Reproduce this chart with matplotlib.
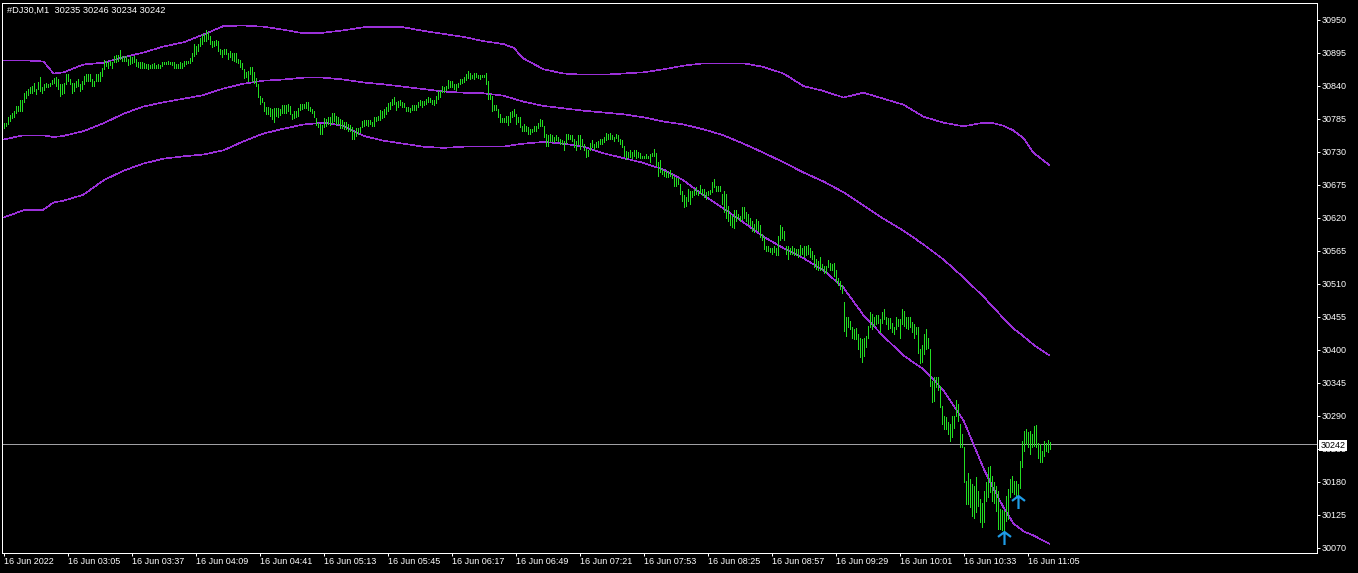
import matplotlib
matplotlib.use("Agg")
import matplotlib.pyplot as plt
from matplotlib.path import Path

W, H = 1358, 573

# One-minute bars, index 0 = 16 Jun 2022 02:33
highs = [
    30777, 30777, 30788, 30791, 30794, 30797, 30806, 30806, 30816, 30816,
    30827, 30831, 30834, 30837, 30840, 30845, 30834, 30846, 30855, 30837,
    30842, 30845, 30842, 30845, 30849, 30852, 30855, 30851, 30842, 30843,
    30845, 30859, 30859, 30851, 30845, 30845, 30848, 30851, 30842, 30848,
    30856, 30860, 30859, 30860, 30851, 30848, 30860, 30859, 30862, 30870,
    30882, 30881, 30879, 30881, 30879, 30890, 30891, 30891, 30899, 30890,
    30890, 30890, 30884, 30890, 30888, 30890, 30884, 30880, 30879, 30879,
    30877, 30876, 30876, 30875, 30876, 30877, 30875, 30876, 30875, 30880,
    30879, 30880, 30881, 30879, 30880, 30879, 30876, 30876, 30879,
    30877, 30881, 30881, 30881, 30886, 30895, 30910, 30906, 30909, 30919,
    30926, 30926, 30932, 30929, 30923, 30915, 30914, 30916, 30914, 30901,
    30899, 30901, 30901, 30894, 30897, 30894, 30894, 30895, 30884, 30882,
    30877, 30867, 30862, 30865, 30871, 30871, 30862, 30853, 30842, 30823,
    30820, 30813, 30805, 30805, 30802, 30801, 30802, 30802, 30802, 30801,
    30808, 30808, 30808, 30809, 30806, 30793, 30797, 30798, 30802, 30809,
    30809, 30810, 30812, 30812, 30805, 30801, 30798, 30786, 30778, 30776,
    30775, 30786, 30784, 30787, 30787, 30795, 30795, 30790, 30787, 30784,
    30782, 30780, 30780, 30776, 30775, 30771, 30765, 30769, 30770, 30771,
    30781, 30783, 30783, 30783, 30782, 30780, 30788, 30788, 30790, 30800,
    30797, 30801, 30804, 30811, 30812, 30818, 30821, 30812, 30815, 30816,
    30812, 30811, 30805, 30805, 30803, 30807, 30807, 30808, 30812, 30816,
    30815, 30815, 30818, 30821, 30820, 30816, 30816, 30823, 30831, 30831,
    30840, 30837, 30840, 30850, 30847, 30847, 30843, 30842, 30844, 30851,
    30851, 30854, 30860, 30865, 30861, 30858, 30861, 30861, 30858, 30857,
    30858, 30858, 30861, 30848, 30826, 30823, 30807, 30807, 30801, 30793,
    30786, 30786, 30790, 30790, 30796, 30798, 30801, 30792, 30788, 30788,
    30773, 30776, 30773, 30771, 30768, 30768, 30773, 30773, 30777, 30784,
    30782, 30773, 30760, 30757, 30760, 30757, 30754, 30757, 30755, 30751,
    30750, 30748, 30760, 30760, 30758, 30757, 30751, 30748, 30758, 30757,
    30751, 30742, 30734, 30733, 30744, 30750, 30743, 30746, 30747, 30751,
    30751, 30755, 30761, 30760, 30761, 30757, 30755, 30760, 30757, 30751,
    30750, 30740, 30731, 30729, 30732, 30729, 30732, 30733, 30729, 30727,
    30723, 30723, 30726, 30723, 30726, 30727, 30735, 30727, 30712, 30716,
    30701, 30698, 30698, 30696, 30700, 30693, 30687, 30686, 30686, 30676,
    30665, 30657, 30655, 30668, 30665, 30665, 30668, 30671, 30665, 30675,
    30668, 30668, 30662, 30665, 30666, 30679, 30684, 30673, 30673, 30673,
    30660, 30665, 30660, 30640, 30626, 30623, 30632, 30632, 30626, 30623,
    30637, 30638, 30629, 30626, 30620, 30615, 30609, 30618, 30615, 30608,
    30593, 30588, 30573, 30572, 30570, 30569, 30572, 30570, 30590, 30608,
    30604, 30598, 30573, 30573, 30570, 30573, 30570, 30568, 30568, 30575,
    30570, 30572, 30573, 30575, 30570, 30565, 30557, 30551, 30548, 30554,
    30543, 30540, 30540, 30549, 30545, 30543, 30544, 30532, 30519, 30515,
    30507, 30479, 30455, 30454, 30448, 30437, 30434, 30436, 30426, 30420,
    30418, 30420, 30423, 30440, 30462, 30459, 30454, 30457, 30457, 30451,
    30462, 30468, 30454, 30453, 30453, 30445, 30438, 30454, 30451, 30451,
    30468, 30465, 30455, 30454, 30454, 30446, 30443, 30437, 30437, 30401,
    30407, 30426, 30434, 30420, 30401, 30348, 30354, 30355, 30354, 30340,
    30306, 30290, 30287, 30279, 30276, 30290, 30290, 30316, 30309, 30276,
    30259, 30237, 30181, 30195, 30184, 30176, 30173, 30187, 30165, 30151,
    30145, 30165, 30179, 30204, 30206, 30190, 30179, 30173, 30165, 30134,
    30132, 30131, 30156, 30168, 30184, 30190, 30181, 30181, 30176, 30215,
    30248, 30264, 30268, 30262, 30265, 30259, 30273, 30275, 30245, 30243,
    30231, 30248, 30245, 30249, 30246,
]

lows = [
    30770, 30773, 30776, 30781, 30786, 30788, 30794, 30798, 30797, 30798,
    30812, 30820, 30825, 30827, 30828, 30831, 30826, 30834, 30831, 30828,
    30832, 30837, 30837, 30840, 30842, 30845, 30840, 30834, 30823, 30826,
    30828, 30842, 30848, 30842, 30828, 30831, 30837, 30840, 30831, 30834,
    30842, 30848, 30847, 30848, 30840, 30840, 30848, 30847, 30848, 30856,
    30867, 30873, 30870, 30874, 30869, 30879, 30879, 30881, 30884, 30881,
    30881, 30881, 30874, 30876, 30877, 30879, 30873, 30871, 30870, 30869,
    30869, 30869, 30867, 30869, 30869, 30870, 30869, 30870, 30869, 30873,
    30876, 30876, 30876, 30876, 30875, 30870, 30869, 30869, 30870,
    30870, 30873, 30876, 30877, 30877, 30881, 30890, 30892, 30898, 30906,
    30910, 30914, 30915, 30917, 30909, 30904, 30906, 30908, 30898, 30892,
    30888, 30892, 30892, 30884, 30887, 30882, 30881, 30879, 30877, 30871,
    30867, 30852, 30855, 30847, 30859, 30848, 30845, 30840, 30821, 30809,
    30812, 30798, 30793, 30792, 30790, 30784, 30780, 30790, 30787, 30791,
    30795, 30795, 30795, 30797, 30793, 30784, 30786, 30788, 30790, 30799,
    30801, 30802, 30802, 30799, 30797, 30795, 30787, 30775, 30771, 30759,
    30759, 30771, 30773, 30776, 30775, 30778, 30781, 30776, 30776, 30770,
    30769, 30767, 30767, 30765, 30765, 30751, 30751, 30756, 30759, 30762,
    30771, 30773, 30775, 30773, 30776, 30773, 30772, 30781, 30782, 30782,
    30786, 30788, 30793, 30797, 30801, 30807, 30810, 30800, 30804, 30807,
    30804, 30804, 30797, 30798, 30796, 30800, 30800, 30800, 30804, 30807,
    30805, 30807, 30810, 30812, 30812, 30810, 30808, 30811, 30818, 30821,
    30829, 30829, 30833, 30836, 30837, 30837, 30834, 30832, 30837, 30842,
    30844, 30846, 30850, 30853, 30851, 30853, 30851, 30854, 30853, 30851,
    30854, 30854, 30843, 30818, 30818, 30798, 30800, 30800, 30788, 30779,
    30779, 30779, 30779, 30775, 30779, 30788, 30790, 30776, 30779, 30771,
    30764, 30764, 30764, 30760, 30760, 30762, 30764, 30765, 30770, 30773,
    30773, 30754, 30740, 30740, 30748, 30747, 30746, 30750, 30747, 30743,
    30742, 30732, 30744, 30751, 30751, 30748, 30737, 30733, 30742, 30734,
    30740, 30732, 30721, 30722, 30733, 30737, 30734, 30737, 30738, 30742,
    30742, 30746, 30750, 30751, 30751, 30751, 30747, 30753, 30748, 30742,
    30738, 30723, 30718, 30721, 30721, 30720, 30723, 30720, 30721, 30720,
    30720, 30720, 30720, 30720, 30712, 30722, 30723, 30707, 30690, 30696,
    30692, 30690, 30687, 30687, 30690, 30686, 30673, 30672, 30676, 30659,
    30648, 30638, 30640, 30648, 30643, 30654, 30657, 30659, 30657, 30661,
    30657, 30654, 30651, 30657, 30659, 30662, 30671, 30664, 30664, 30664,
    30643, 30629, 30620, 30615, 30607, 30605, 30603, 30615, 30618, 30615,
    30618, 30620, 30615, 30609, 30607, 30598, 30596, 30601, 30598, 30587,
    30582, 30568, 30565, 30564, 30562, 30560, 30562, 30557, 30557, 30582,
    30586, 30582, 30559, 30551, 30559, 30560, 30557, 30558, 30555, 30557,
    30559, 30555, 30557, 30559, 30554, 30551, 30537, 30534, 30532, 30532,
    30532, 30527, 30527, 30537, 30532, 30532, 30523, 30512, 30507, 30501,
    30495, 30431, 30423, 30437, 30434, 30419, 30418, 30418, 30401, 30387,
    30379, 30390, 30404, 30420, 30437, 30434, 30440, 30443, 30444, 30430,
    30445, 30451, 30443, 30434, 30436, 30429, 30426, 30434, 30440, 30420,
    30443, 30440, 30436, 30434, 30437, 30429, 30420, 30426, 30395, 30377,
    30379, 30393, 30401, 30403, 30340, 30312, 30315, 30337, 30332, 30304,
    30276, 30268, 30268, 30259, 30248, 30254, 30270, 30290, 30281, 30237,
    30237, 30179, 30142, 30142, 30137, 30123, 30120, 30129, 30140, 30112,
    30104, 30112, 30148, 30154, 30162, 30148, 30145, 30131, 30101, 30101,
    30099, 30087, 30115, 30117, 30154, 30162, 30159, 30154, 30156, 30170,
    30204, 30231, 30243, 30237, 30226, 30237, 30240, 30237, 30220, 30212,
    30212, 30223, 30231, 30229, 30234,
]

# Bollinger bands at these bar indexes
band_idx = [0, 10, 20, 25, 30, 40, 50, 60, 70, 80, 90, 100, 110, 120, 130,
            140, 150, 160, 170, 180, 190, 200, 210, 220, 230, 240, 250, 255,
            260, 270, 280, 290, 300, 310, 320, 330, 340, 350, 360, 370, 380,
            390, 400, 410, 420, 430, 440, 450, 460, 470, 480, 490, 495, 500,
            505, 510, 515, 523]
band_upper = [30882, 30882, 30880, 30860, 30862, 30875, 30878, 30887, 30895,
              30905, 30912, 30925, 30939, 30940, 30938, 30933, 30927, 30928,
              30932, 30937, 30938, 30937, 30931, 30926, 30921, 30914, 30909,
              30903, 30885, 30867, 30860, 30858, 30858, 30860, 30862, 30867,
              30873, 30877, 30877, 30877, 30871, 30860, 30839, 30831, 30820,
              30828, 30818, 30808, 30788, 30778, 30772, 30778, 30777, 30773,
              30765, 30752, 30728, 30707]
band_mid = [30750, 30757, 30757, 30754, 30756, 30764, 30777, 30793, 30805,
            30812, 30818, 30824, 30835, 30843, 30848, 30850, 30853, 30853,
            30850, 30845, 30842, 30838, 30834, 30830, 30828, 30827, 30823,
            30818, 30813, 30806, 30802, 30798, 30795, 30792, 30787, 30780,
            30775, 30767, 30757, 30743, 30728, 30712, 30695, 30680, 30662,
            30640, 30618, 30598, 30575, 30550, 30520, 30488, 30470, 30452,
            30435, 30422, 30408, 30390]
band_lower = [30620, 30632, 30633, 30645, 30648, 30658, 30682, 30698, 30710,
              30718, 30722, 30725, 30732, 30747, 30760, 30768, 30775, 30778,
              30773, 30756, 30748, 30743, 30738, 30736, 30738, 30738, 30738,
              30741, 30743, 30746, 30743, 30738, 30727, 30719, 30711, 30700,
              30682, 30657, 30635, 30612, 30588, 30569, 30552, 30532, 30503,
              30457, 30422, 30390, 30367, 30332, 30282, 30202, 30168, 30137,
              30110, 30097, 30090, 30076]

# buy arrows: bar index and price of the arrow tip
signal_idx = [500, 507]
signal_price = [30097, 30157]

last_price = 30242
header = "#DJ30,M1  30235 30246 30234 30242"

price_ticks = [30950, 30895, 30840, 30785, 30730, 30675, 30620, 30565, 30510,
               30455, 30400, 30345, 30290, 30235, 30180, 30125, 30070]
time_ticks = [0, 32, 64, 96, 128, 160, 192, 224, 256, 288, 320, 352, 384,
              416, 448, 480, 512]
time_labels = ["16 Jun 2022", "16 Jun 03:05", "16 Jun 03:37", "16 Jun 04:09",
               "16 Jun 04:41", "16 Jun 05:13", "16 Jun 05:45", "16 Jun 06:17",
               "16 Jun 06:49", "16 Jun 07:21", "16 Jun 07:53", "16 Jun 08:25",
               "16 Jun 08:57", "16 Jun 09:29", "16 Jun 10:01", "16 Jun 10:33",
               "16 Jun 11:05"]

bar_color = "#22DD22"
band_color = "#9B30D9"
arrow_color = "#1E9CE6"
px = 72 / 100  # one pixel in points

plt.rcParams['font.family'] = ['Liberation Sans', 'DejaVu Sans']

fig = plt.figure(figsize=(W / 100, H / 100), dpi=100, facecolor="black")
# plot frame: x 1.5..1317, y 2.5..552.5 (pixels from top-left)
ax = fig.add_axes([1.5 / W, (H - 552.5) / H, (1317 - 1.5) / W, (552.5 - 2.5) / H])
ax.set_facecolor("black")

# 2 px per bar, 0.6 px per point
ax.set_xlim(-1, -1 + (1317 - 1.5) / 2)
ax.set_ylim(30950 - (552.5 - 19.5) / 0.6, 30950 + (19.5 - 2.5) / 0.6)

ax.vlines(range(len(highs)), lows, highs, colors=bar_color,
          linewidth=0.8 * px, antialiased=False, zorder=3)

for band in (band_upper, band_mid, band_lower):
    ax.plot(band_idx, band, color=band_color, linewidth=0.6 * px,
            antialiased=False, zorder=2)

ax.axhline(last_price, color="#A0A0A4", linewidth=0.8 * px, antialiased=False,
           zorder=1)

# up arrows (chevron head + shaft)
arrow = Path([(-0.5, 0.12), (0, 0.5), (0.5, 0.12), (0, 0.5), (0, -0.5)],
             [Path.MOVETO, Path.LINETO, Path.LINETO, Path.MOVETO, Path.LINETO])
arrow_px = 13
tip_offset = (arrow_px / 2) / 0.6
ax.plot(signal_idx, [p - tip_offset for p in signal_price], linestyle="none",
        marker=arrow, markersize=arrow_px * px, markeredgewidth=2.2 * px,
        markeredgecolor=arrow_color, markerfacecolor="none", zorder=4)

for s in ax.spines.values():
    s.set_color("white")
    s.set_linewidth(1.0 * px)

ax.yaxis.tick_right()
ax.set_yticks(price_ticks)
ax.set_yticklabels([str(p) for p in price_ticks])
ax.set_xticks(time_ticks)
ax.set_xticklabels(time_labels)
ax.tick_params(axis="both", colors="white", labelsize=6.5,
               length=3 * px, width=1.0 * px, direction="out")
ax.tick_params(axis="y", pad=1.5)
ax.tick_params(axis="x", pad=0.8)
for lbl in ax.get_xticklabels():
    lbl.set_horizontalalignment("left")

# current price box on the price scale (covers the 30235 label, as in MT4)
fig.text(1320.5 / W, 1 - 445.5 / H, str(last_price), color="black",
         fontsize=6.5, ha="left", va="center", zorder=10,
         bbox=dict(boxstyle="square,pad=0.12", facecolor="white",
                   edgecolor="none"))

fig.text(7 / W, 1 - 10.5 / H, header, color="white", fontsize=6.7,
         ha="left", va="center")

fig.savefig("out.png", dpi=100, facecolor="black")
